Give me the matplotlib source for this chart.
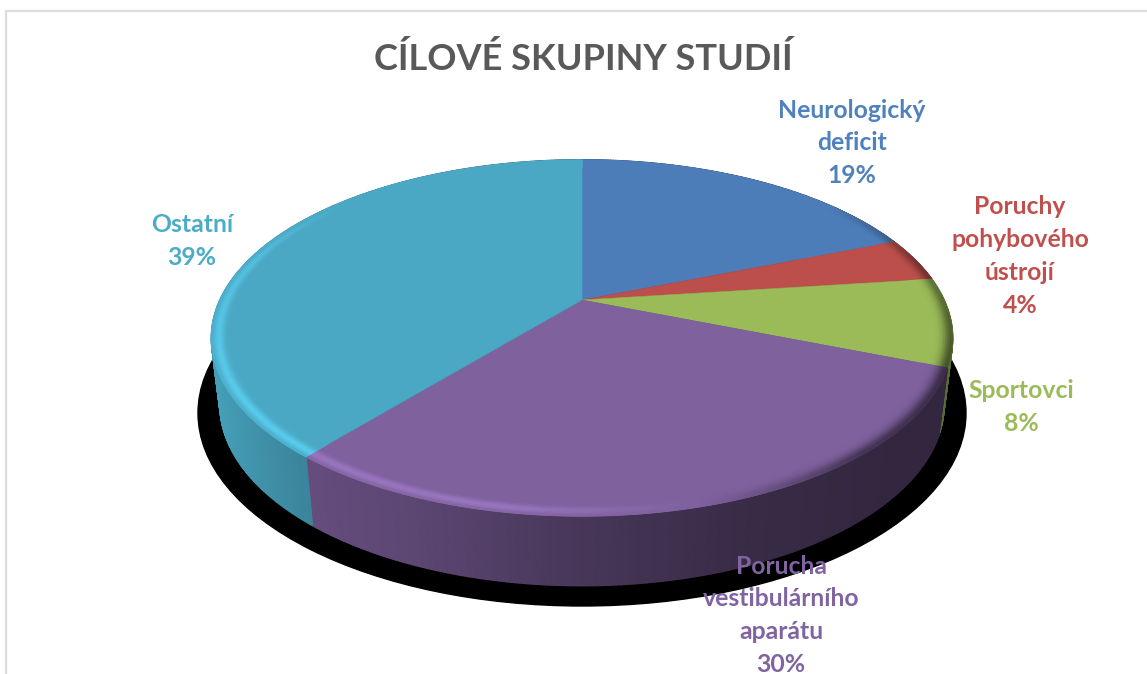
import numpy as np
import matplotlib
matplotlib.use("Agg")
import matplotlib.pyplot as plt
from matplotlib.collections import PolyCollection
from matplotlib.colors import to_rgb
from matplotlib.patches import Ellipse, Polygon

# Data
categories = ["Neurologický\ndeficit", "Poruchy\npohybového\nústrojí", "Sportovci",
              "Porucha\nvestibulárního\naparátu", "Ostatní"]
shares = [19, 4, 8, 30, 39]
face_colors = ["#4d7db9", "#bc4f4c", "#9bbb59", "#7f619e", "#4aa8c4"]
text_colors = ["#4f81bd", "#c0504d", "#9bbb59", "#8064a2", "#4bacc6"]
label_positions = [(852, 110), (1020, 207), (1021, 391), (781, 566), (192, 225)]
title = "CÍLOVÉ SKUPINY STUDIÍ"

# Perspective of the disc: (centre x, apex y, x scale, y scale, tilt)
TOP = (582.0, 300.0, 362.0, 170.0, 0.2135)
BOTTOM = (582.0, 366.0, 353.6, 172.7, 0.2135)

SIDE_X = [210, 300, 420, 582, 760, 900, 960]
SIDE_SHADE = [0.95, 0.80, 0.72, 0.56, 0.44, 0.40, 0.40]
SIDE_GAIN = [1.0, 1.0, 1.45, 1.0, 1.0]
RIM_PHI = [0, 50, 75, 110, 140, 165, 190, 240, 285, 310, 360]
RIM_LEVEL = [0, 0, -0.5, -0.85, -0.7, 0, 0.7, 0.7, 0.45, 0, 0]


def project(disc, phi_deg, r=1.0):
    """Map polar disc coordinates, clockwise from the top, onto the canvas."""
    cx, cy, ax_x, ax_y, tilt = disc
    phi = np.radians(phi_deg)
    u, v = r * np.sin(phi), -r * np.cos(phi)
    d = 1 - tilt * v
    return np.column_stack([cx + ax_x * u / d, cy + ax_y * v / d])


def rim_color(base, phi, r):
    level = np.interp(phi, RIM_PHI, RIM_LEVEL)
    if level >= 0:
        gain = 0.30 * level * np.exp(-((r - 0.982) / 0.014) ** 2)
    else:
        gain = 0.65 * level * np.exp(-((r - 1.0) / 0.022) ** 2)
    return np.clip(base * (1 + gain), 0, 1)


fig = plt.figure(figsize=(11.47, 6.74), dpi=100, facecolor="white")
ax = fig.add_axes([0, 0, 1, 1])
ax.set_xlim(0, 1147)
ax.set_ylim(674, 0)
ax.axis("off")

# Frame of the chart area
ax.plot([6, 6, 1147], [674, 10.5, 10.5], color="#dcdcdc", lw=1.6, zorder=0)

# Cast shadow under the disc
ax.add_patch(Ellipse((582, 413), 768, 386, color="black", zorder=1))

edges = np.cumsum([0] + shares) / sum(shares) * 360.0

# Outer wall, shaded along the horizontal direction
for i, base_hex in enumerate(face_colors):
    base = np.array(to_rgb(base_hex))
    phis = np.arange(edges[i], edges[i + 1] + 0.5, 0.5)
    phis[-1] = edges[i + 1]
    upper, lower = project(TOP, phis), project(BOTTOM, phis)
    quads, cols = [], []
    for j in range(len(phis) - 1):
        quads.append([upper[j], upper[j + 1], lower[j + 1], lower[j]])
        x_mid = 0.5 * (upper[j, 0] + lower[j, 0])
        cols.append(np.clip(base * np.interp(x_mid, SIDE_X, SIDE_SHADE) * SIDE_GAIN[i], 0, 1))
    ax.add_collection(PolyCollection(quads, facecolors=cols, edgecolors=cols,
                                     linewidths=1.2, zorder=2))

# Top face with a bevelled rim
rings = np.linspace(0.93, 1.0, 17)
for i, base_hex in enumerate(face_colors):
    base = np.array(to_rgb(base_hex))
    phis = np.arange(edges[i], edges[i + 1] + 0.5, 0.5)
    phis[-1] = edges[i + 1]
    outline = np.vstack([[TOP[0], TOP[1]], project(TOP, phis)])
    ax.add_patch(Polygon(outline, closed=True, facecolor=base, edgecolor=base,
                         linewidth=0.4, zorder=3))
    quads, cols = [], []
    for r0, r1 in zip(rings[:-1], rings[1:]):
        inner, outer = project(TOP, phis, r0), project(TOP, phis, r1)
        for j in range(len(phis) - 1):
            quads.append([inner[j], inner[j + 1], outer[j + 1], outer[j]])
            cols.append(rim_color(base, 0.5 * (phis[j] + phis[j + 1]), 0.5 * (r0 + r1)))
    ax.add_collection(PolyCollection(quads, facecolors=cols, edgecolors=cols,
                                     linewidths=0.7, zorder=4))

# Texts
ax.text(583, 59, title, ha="center", va="center", family="Lato", weight="bold",
        fontsize=26, color="#595959", zorder=6)
for label, share, color, (x, y) in zip(categories, shares, text_colors, label_positions):
    for k, line in enumerate(label.split("\n") + [f"{share}%"]):
        ax.text(x, y + k * 32.7, line, ha="center", va="center", family="Lato",
                weight="bold", fontsize=17.8, color=color, zorder=6)

fig.savefig("out.png", dpi=100, facecolor="white")
